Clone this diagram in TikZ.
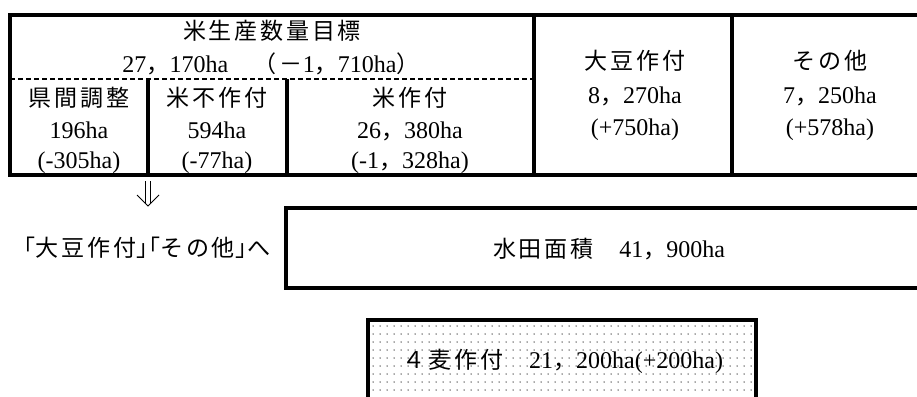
\documentclass[tikz,border=0pt]{standalone}
\usepackage{fontspec}
\setmainfont{Liberation Serif}
\newfontfamily\cjk[Scale=0.96,LetterSpace=12]{Noto Sans CJK JP}
\newcommand\J[1]{{\cjk #1}}
\newcommand\LB{\makebox[0.5em][r]{\cjk 「}}
\newcommand\RB{\makebox[0.5em][l]{\cjk 」}}
\begin{document}
\begin{tikzpicture}[x=1pt,y=-1pt,
  frame/.style={line width=3.2pt},
  divider/.style={line width=2.5pt, dash pattern=on 5pt off 3pt},
  txt/.style={font=\fontsize{24}{30}\selectfont, inner sep=0pt, anchor=base},
  dotfill/.style={fill=black!70}]
\clip (0,0) rectangle (917,396);
% top table
\draw[frame] (930,15) -- (10,15) -- (10,175) -- (930,175);
\draw[frame] (534,15) -- (534,175);
\draw[frame] (732,15) -- (732,175);
\draw[frame] (148,79) -- (148,175);
\draw[frame] (287,79) -- (287,175);
\draw[divider] (10,79) -- (534,79);
\node[txt] (h1) at (272,40) {\J{米生産数量目標}};
\node[txt] (h2) at (271,72) {27\J{，}170ha\J{　（－}1\J{，}710ha\J{）}};
\node[txt] (a1) at (79,106) {\J{県間調整}};
\node[txt] (a2) at (79,138) {196ha};
\node[txt] (a3) at (79,168) {(-305ha)};
\node[txt] (b1) at (217,106) {\J{米不作付}};
\node[txt] (b2) at (217,138) {594ha};
\node[txt] (b3) at (217,168) {(-77ha)};
\node[txt] (c1) at (410,106) {\J{米作付}};
\node[txt] (c2) at (410,138) {26\J{，}380ha};
\node[txt] (c3) at (410,168) {(-1\J{，}328ha)};
\node[txt] (d1) at (635,70) {\J{大豆作付}};
\node[txt] (d2) at (635,103) {8\J{，}270ha};
\node[txt] (d3) at (635,135) {(+750ha)};
\node[txt] (e1) at (830,70) {\J{その他}};
\node[txt] (e2) at (830,103) {7\J{，}250ha};
\node[txt] (e3) at (830,135) {(+578ha)};
% arrow
\node[txt] (note) at (147,256) {\LB\J{大豆作付}\RB\LB\J{その他}\RB\J{へ}};
\coordinate (arrA) at (148,181);
\coordinate (arrB) at (148,206);
\draw[line width=1pt] ([xshift=-2.3pt]arrA) -- ([xshift=-2.3pt,yshift=3pt]arrB)
                      ([xshift=2.3pt]arrA) -- ([xshift=2.3pt,yshift=3pt]arrB);
\draw[line width=1pt] ([xshift=-11pt,yshift=11pt]arrB) -- (arrB) -- ([xshift=11pt,yshift=11pt]arrB);
% water area box
\draw[frame] (930,208) -- (286,208) -- (286,288) -- (930,288);
\node[txt] (w) at (609,257) {\J{水田面積　}41\J{，}900ha};
% wheat box
\foreach \x in {373,380,...,754} {
  \foreach \y in {326,334,...,396} {
    \fill[dotfill] (\x,\y) circle (0.75pt);
  }
}
\draw[frame] (368,400) -- (368,320) -- (756,320) -- (756,400);
\node[txt] (m) at (563,368) {\J{４麦作付　}21\J{，}200ha(+200ha)};
\end{tikzpicture}
\end{document}
